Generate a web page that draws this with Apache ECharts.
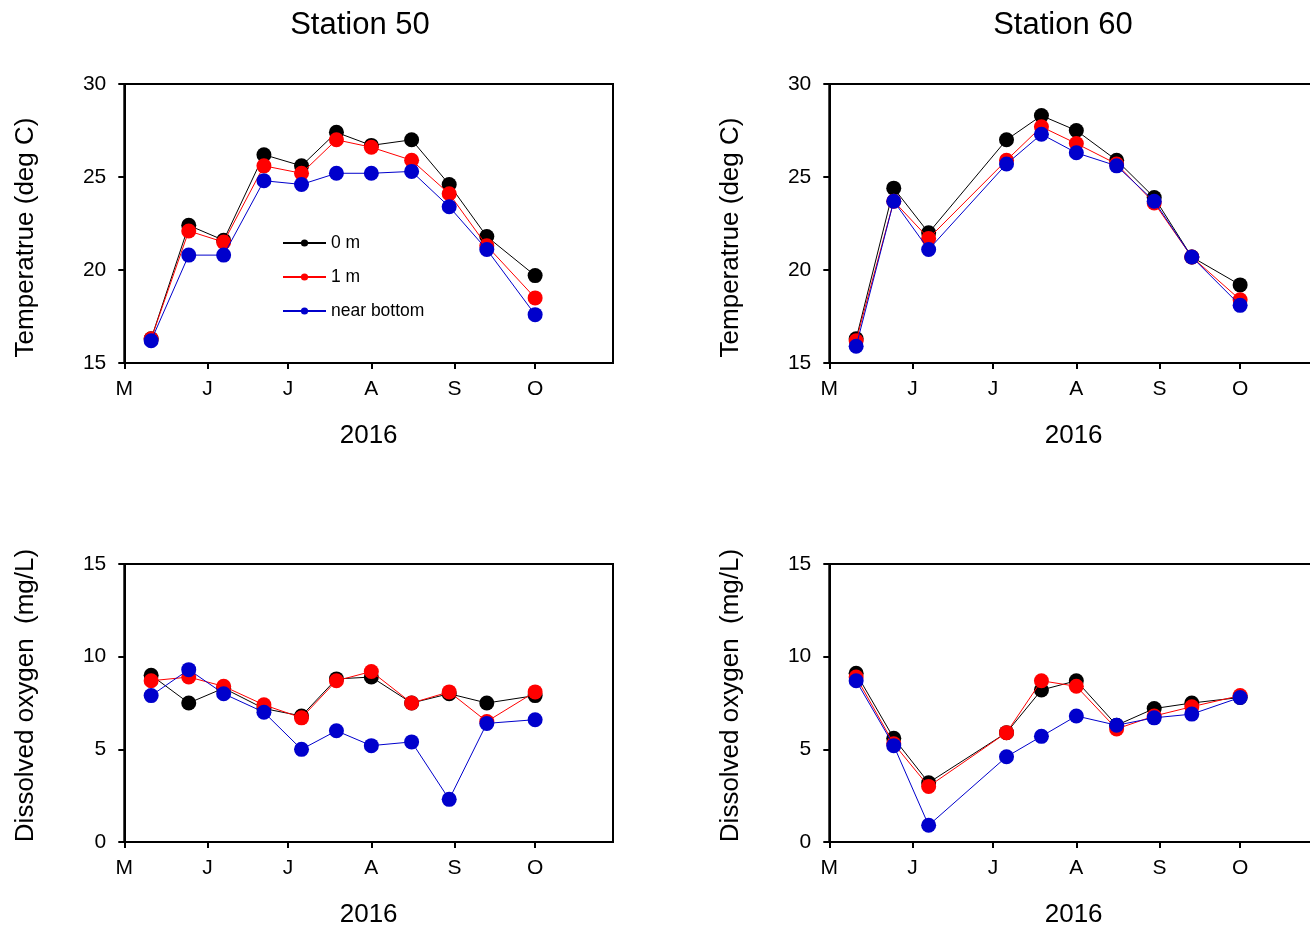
<!DOCTYPE html>
<html>
<head>
<meta charset="utf-8">
<title>Station 50 / Station 60 — 2016</title>
<script src="https://cdn.jsdelivr.net/npm/echarts@6/dist/echarts.min.js"></script>
<style>
  html, body { margin: 0; padding: 0; background: #fff; }
  #chart { width: 1310px; height: 931px; }
</style>
</head>
<body>
<div id="chart"></div>
<script>
// Sampling dates (2016)
const datesSt50 = ['2016-05-11', '2016-05-25', '2016-06-07', '2016-06-22', '2016-07-06', '2016-07-19',
                   '2016-08-01', '2016-08-16', '2016-08-30', '2016-09-13', '2016-10-01'];
const datesSt60 = ['2016-05-11', '2016-05-25', '2016-06-07', '2016-07-06', '2016-07-19',
                   '2016-08-01', '2016-08-16', '2016-08-30', '2016-09-13', '2016-10-01'];

// Month ticks on the time axis
const monthTickDates = ['2016-05-01', '2016-06-01', '2016-07-01', '2016-08-01', '2016-09-01', '2016-10-01'];
const monthTickLabels = ['M', 'J', 'J', 'A', 'S', 'O'];
const axisEndDate = '2016-10-30';

// Depth series names
const depthNames = ['0 m', '1 m', 'near bottom'];

// Temperature (deg C), Station 50
const temp50Surface = [16.3, 22.4, 21.6, 26.2, 25.6, 27.4, 26.7, 27.0, 24.6, 21.8, 19.7];
const temp50OneM    = [16.3, 22.1, 21.5, 25.6, 25.2, 27.0, 26.6, 25.9, 24.1, 21.3, 18.5];
const temp50Bottom  = [16.2, 20.8, 20.8, 24.8, 24.6, 25.2, 25.2, 25.3, 23.4, 21.1, 17.6];

// Temperature (deg C), Station 60
const temp60Surface = [16.3, 24.4, 22.0, 27.0, 28.3, 27.5, 25.9, 23.9, 20.7, 19.2];
const temp60OneM    = [16.2, 23.7, 21.7, 25.9, 27.7, 26.8, 25.7, 23.6, 20.7, 18.4];
const temp60Bottom  = [15.9, 23.7, 21.1, 25.7, 27.3, 26.3, 25.6, 23.7, 20.7, 18.1];

// Dissolved oxygen (mg/L), Station 50
const do50Surface = [9.0, 7.5, 8.3, 7.2, 6.8, 8.8, 8.9, 7.5, 8.0, 7.5, 7.9];
const do50OneM    = [8.7, 8.9, 8.4, 7.4, 6.7, 8.7, 9.2, 7.5, 8.1, 6.5, 8.1];
const do50Bottom  = [7.9, 9.3, 8.0, 7.0, 5.0, 6.0, 5.2, 5.4, 2.3, 6.4, 6.6];

// Dissolved oxygen (mg/L), Station 60
const do60Surface = [9.1, 5.6, 3.2, 5.9, 8.2, 8.7, 6.3, 7.2, 7.5, 7.8];
const do60OneM    = [8.9, 5.3, 3.0, 5.9, 8.7, 8.4, 6.1, 6.8, 7.3, 7.9];
const do60Bottom  = [8.7, 5.2, 0.9, 4.6, 5.7, 6.8, 6.3, 6.7, 6.9, 7.8];

const FONT = '"Liberation Sans", Arial, sans-serif';
const depthColors = ['#000000', '#ff0000', '#0000cc'];

// Days since the first month tick, used as the x value
const DAY = 86400000;
const origin = Date.parse(monthTickDates[0]);
const toDay = d => (Date.parse(d) - origin) / DAY;
const monthTickDays = monthTickDates.map(toDay);
const axisEndDay = toDay(axisEndDate);

// The right-hand panels run past the page edge, so no outer-bounds squeezing
const panelW = 488.7;
const grids = [
  { left: 124.3, top: 84,  width: panelW, height: 279 },
  { left: 829.3, top: 84,  width: panelW, height: 279 },
  { left: 124.3, top: 564, width: panelW, height: 278 },
  { left: 829.3, top: 564, width: panelW, height: 278 }
].map(g => Object.assign({
  show: true, borderColor: '#000', borderWidth: 2,
  containLabel: false, outerBoundsMode: 'none'
}, g));

function makeXAxis(gridIndex) {
  return {
    type: 'value', gridIndex,
    min: 0, max: axisEndDay,
    name: '2016', nameLocation: 'middle', nameGap: 60,
    nameTextStyle: { fontFamily: FONT, fontSize: 26, color: '#000' },
    axisLine: { onZero: false, lineStyle: { color: '#000', width: 2 } },
    axisTick: { show: true, inside: false, length: 6, customValues: monthTickDays, lineStyle: { color: '#000', width: 2 } },
    axisLabel: {
      customValues: monthTickDays, margin: 16,
      fontFamily: FONT, fontSize: 21, color: '#000',
      formatter: v => monthTickLabels[monthTickDays.indexOf(v)] || ''
    },
    splitLine: { show: false }
  };
}

function makeYAxis(gridIndex, name, min, max, padding) {
  return {
    type: 'value', gridIndex, min, max, interval: 5,
    name, nameLocation: 'middle', nameGap: 85,
    nameTextStyle: { fontFamily: FONT, fontSize: 26, color: '#000', padding },
    axisLine: { onZero: false, lineStyle: { color: '#000', width: 2 } },
    axisTick: { show: true, inside: false, length: 6, lineStyle: { color: '#000', width: 2 } },
    axisLabel: { margin: 18, fontFamily: FONT, fontSize: 21, color: '#000' },
    splitLine: { show: false }
  };
}

function makeSeries(axisIndex, dates, values, depthIdx) {
  const days = dates.map(toDay);
  return {
    type: 'line', name: depthNames[depthIdx],
    xAxisIndex: axisIndex, yAxisIndex: axisIndex,
    data: values.map((v, i) => [days[i], v]),
    symbol: 'circle', symbolSize: 15,
    itemStyle: { color: depthColors[depthIdx] },
    lineStyle: { color: depthColors[depthIdx], width: 1 },
    z: 2 + depthIdx,
    animation: false
  };
}

const panels = [
  [datesSt50, [temp50Surface, temp50OneM, temp50Bottom]],
  [datesSt60, [temp60Surface, temp60OneM, temp60Bottom]],
  [datesSt50, [do50Surface, do50OneM, do50Bottom]],
  [datesSt60, [do60Surface, do60OneM, do60Bottom]]
];

const series = [];
panels.forEach(([dates, sets], p) => {
  sets.forEach((vals, k) => series.push(makeSeries(p, dates, vals, k)));
});

const titleStyle = { fontFamily: FONT, fontSize: 31, fontWeight: 'normal', color: '#000' };

const option = {
  backgroundColor: '#fff',
  animation: false,
  title: [
    { text: 'Station 50', left: 355, top: 5, textAlign: 'center', textStyle: titleStyle },
    { text: 'Station 60', left: 1058, top: 5, textAlign: 'center', textStyle: titleStyle }
  ],
  legend: {
    data: depthNames,
    orient: 'vertical',
    left: 277, top: 229,
    itemWidth: 43, itemHeight: 9, itemGap: 16,
    textStyle: { fontFamily: FONT, fontSize: 17.5, color: '#000' },
    selectedMode: false
  },
  grid: grids,
  xAxis: [0, 1, 2, 3].map(makeXAxis),
  yAxis: [
    makeYAxis(0, 'Temperatrue (deg C)', 15, 30, [0, 28, 0, 0]),
    makeYAxis(1, 'Temperatrue (deg C)', 15, 30, [0, 28, 0, 0]),
    makeYAxis(2, 'Dissolved oxygen  (mg/L)', 0, 15, [0, 0, 0, 15]),
    makeYAxis(3, 'Dissolved oxygen  (mg/L)', 0, 15, [0, 0, 0, 15])
  ],
  series
};

const chart = echarts.init(document.getElementById('chart'), null, { renderer: 'canvas' });
chart.setOption(option);
</script>
</body>
</html>
